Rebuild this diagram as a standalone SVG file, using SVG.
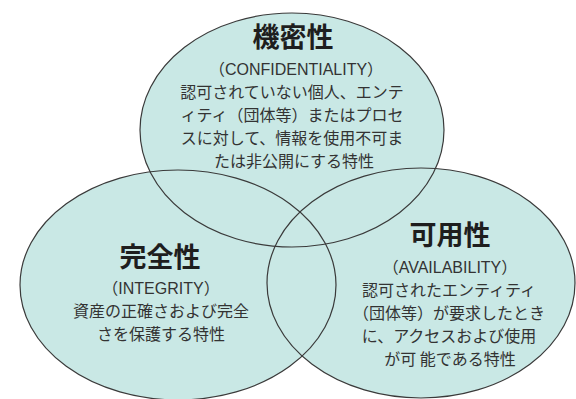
<svg xmlns="http://www.w3.org/2000/svg" width="576" height="399" viewBox="0 0 576 399">
<style>
.fill{fill:#c9e8e5;stroke:none}
.ring{fill:none;stroke:#3a3a3a;stroke-width:1.2}
.t{font-family:"Noto Sans CJK JP","Noto Sans",sans-serif;font-weight:700;font-size:27px;fill:#1e1e1e;text-anchor:middle}
.b{font-family:"Noto Sans CJK JP","Noto Sans",sans-serif;font-size:16px;fill:#333;text-anchor:middle}
.l{font-family:"Liberation Sans","Noto Sans CJK JP",sans-serif}
</style>
<rect width="576" height="399" fill="#fff"/>
<g id="fills">
<ellipse class="fill" cx="292" cy="130" rx="152" ry="117"/>
<ellipse class="fill" cx="178" cy="285" rx="158" ry="115"/>
<ellipse class="fill" cx="421" cy="283" rx="154" ry="115"/>
</g>
<g id="connectors"></g>
<g id="confidentiality">
<ellipse class="ring" cx="292" cy="130" rx="152" ry="117"/>
<text class="t" x="293" y="47">機密性</text>
<text class="b l" x="296" y="75">（CONFIDENTIALITY）</text>
<text class="b" x="292" y="98">認可されていない個人、エンテ</text>
<text class="b" x="292" y="121">ィティ（団体等）またはプロセ</text>
<text class="b" x="292" y="144">スに対して、情報を使用不可ま</text>
<text class="b" x="294" y="167">たは非公開にする特性</text>
</g>
<g id="integrity">
<ellipse class="ring" cx="178" cy="285" rx="158" ry="115"/>
<text class="t" x="160" y="267">完全性</text>
<text class="b l" x="161" y="294">（INTEGRITY）</text>
<text class="b" x="161" y="317">資産の正確さおよび完全</text>
<text class="b" x="161" y="340">さを保護する特性</text>
</g>
<g id="availability">
<ellipse class="ring" cx="421" cy="283" rx="154" ry="115"/>
<text class="t" x="450" y="245">可用性</text>
<text class="b l" x="450" y="273">（AVAILABILITY）</text>
<text class="b" x="449" y="296">認可されたエンティティ</text>
<text class="b" x="449" y="319">（団体等）が要求したとき</text>
<text class="b" x="449" y="342">に、アクセスおよび使用</text>
<text class="b" x="450" y="365">が可 能である特性</text>
</g>
</svg>
